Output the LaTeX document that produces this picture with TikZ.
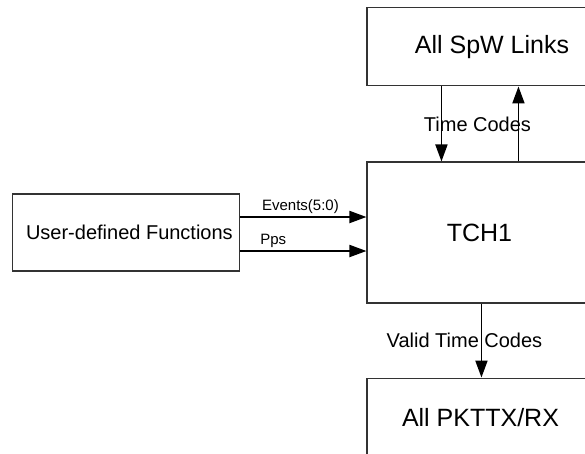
\documentclass[tikz,border=0pt]{standalone}
\usepackage{fontspec}
\setmainfont{Liberation Sans}
\usetikzlibrary{arrows.meta,positioning,calc}
\definecolor{boxline}{gray}{0.2}
\tikzset{
  blockbox/.style={draw=boxline, line width=1.1pt, align=center, inner sep=0pt},
  sigarr/.style={-{Triangle[length=17pt,width=12pt]}, line width=1.9pt, black},
  siglabel/.style={inner sep=2pt}
}
\newcommand{\bigtxt}{\fontsize{25}{30}\selectfont}
\newcommand{\midtxt}{\fontsize{20}{24}\selectfont}
\newcommand{\smalltxt}{\fontsize{15}{18}\selectfont}

\begin{document}
\begin{tikzpicture}
  \clip (0,0) rectangle (585pt,-453pt);

  \node[blockbox, minimum width=225pt, minimum height=141pt,
        font=\bigtxt] (tch) at (479.5pt,-232.5pt) {TCH1};

  \node[blockbox, minimum width=250pt, minimum height=78pt,
        font=\bigtxt, above right=75pt and 0pt of tch.north west] (spw) {All SpW Links};

  \node[blockbox, minimum width=227pt, minimum height=78pt,
        font=\bigtxt, below right=74pt and 0pt of tch.south west] (pkt) {All PKTTX/RX};

  \node[blockbox, minimum width=227pt, minimum height=77pt,
        font=\midtxt, left=126pt of tch] (user) {\hspace{6pt}User-defined Functions};

  % event and pps lines
  \draw[sigarr] ([yshift=15.5pt]user.east) -- ([yshift=15.5pt]user.east -| tch.west)
    node[midway, above, siglabel, xshift=-3pt, font=\smalltxt] {Events(5:0)};
  \draw[sigarr] ([yshift=-18.5pt]user.east) -- ([yshift=-18.5pt]user.east -| tch.west)
    node[pos=0.26, above, siglabel, font=\smalltxt] {Pps};

  % time codes to and from the links
  \draw[sigarr] ([xshift=75pt]spw.south west) -- ([xshift=75pt]tch.north west);
  \draw[sigarr] ([xshift=152pt]tch.north west) -- ([xshift=152pt]spw.south west);
  \node[font=\midtxt] (tc) at ($(tch.north west)!0.5!(spw.south west)+(111pt,0)$) {Time Codes};

  \draw[sigarr] ([xshift=115pt]tch.south west) -- ([xshift=115pt]pkt.north west)
    node[midway, xshift=-17pt, font=\midtxt] {Valid Time Codes};
\end{tikzpicture}
\end{document}
